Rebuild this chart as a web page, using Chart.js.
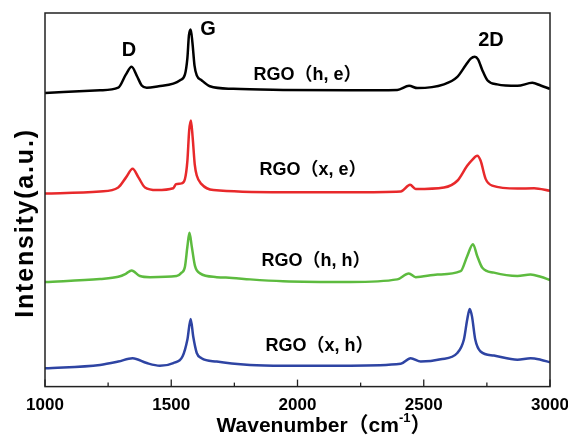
<!DOCTYPE html>
<html>
<head>
<meta charset="utf-8">
<script src="https://cdn.jsdelivr.net/npm/chart.js@4"></script>
<style>
  html, body { margin: 0; padding: 0; background: #fff; }
  #wrap { width: 568px; height: 435px; position: relative; }
</style>
</head>
<body>
<div id="wrap"><canvas id="raman"></canvas></div>
<script>
// Raman spectra (intensity in a.u., curves stacked with offsets)
const xTicks = [1000, 1500, 2000, 2500, 3000];

const heWn = [1000, 1218, 1290, 1320, 1343, 1365, 1383, 1403, 1450, 1508, 1535, 1554, 1564, 1570, 1577, 1584, 1592, 1601, 1620, 1653, 1746, 1943, 2211, 2395, 2442, 2475, 2580, 2633, 2666, 2686, 2702, 2715, 2732, 2752, 2791, 2871, 2930, 2963, 3000];
const heI  = [78.6, 79.3, 80.0, 83.5, 85.6, 83.0, 80.6, 80.0, 80.4, 81.1, 82.0, 83.5, 88.0, 94.0, 95.6, 92.0, 86.0, 83.3, 82.0, 80.4, 79.7, 79.4, 79.3, 79.4, 80.5, 79.9, 80.9, 82.9, 86.0, 87.8, 88.3, 87.6, 84.7, 82.0, 80.9, 80.5, 81.3, 80.6, 79.7];

const xeWn = [1000, 1218, 1290, 1321, 1347, 1370, 1396, 1442, 1508, 1519, 1541, 1554, 1564, 1571, 1578, 1585, 1593, 1601, 1620, 1667, 1943, 2211, 2409, 2446, 2468, 2580, 2633, 2672, 2692, 2712, 2725, 2745, 2771, 2871, 2937, 3000];
const xeI  = [51.7, 52.2, 53.3, 56.0, 58.3, 56.0, 53.3, 52.6, 53.1, 54.2, 54.4, 55.5, 60.5, 68.5, 71.2, 66.5, 59.5, 56.5, 54.2, 52.6, 52.0, 52.0, 52.2, 54.0, 52.9, 53.3, 55.1, 59.1, 60.7, 61.8, 60.5, 55.6, 53.8, 53.0, 53.1, 52.4];

const hhWn = [1000, 1218, 1290, 1320, 1343, 1376, 1416, 1521, 1541, 1554, 1564, 1572, 1581, 1594, 1614, 1680, 1742, 1812, 1943, 2211, 2395, 2441, 2468, 2554, 2646, 2672, 2695, 2712, 2732, 2778, 2871, 2923, 2963, 3000];
const hhI  = [28.0, 28.8, 29.4, 30.2, 31.1, 29.6, 29.3, 29.6, 30.5, 32.0, 37.5, 41.2, 37.6, 32.3, 30.3, 29.3, 29.1, 28.7, 28.2, 28.0, 28.7, 30.3, 29.3, 30.0, 30.9, 34.9, 38.1, 34.9, 31.8, 30.5, 29.6, 30.0, 29.4, 28.5];

const xhWn = [1000, 1218, 1290, 1347, 1403, 1455, 1508, 1545, 1564, 1577, 1587, 1601, 1620, 1680, 1812, 1943, 2211, 2409, 2448, 2488, 2567, 2633, 2659, 2672, 2682, 2691, 2704, 2725, 2778, 2871, 2923, 2963, 3000];
const xhI  = [4.9, 5.8, 6.7, 7.6, 6.3, 5.6, 6.3, 8.1, 12.6, 18.1, 13.4, 9.0, 7.6, 6.7, 5.8, 5.6, 5.6, 6.1, 7.6, 6.7, 7.3, 9.0, 12.6, 17.9, 20.8, 18.8, 12.6, 9.4, 8.3, 7.2, 7.6, 7.2, 6.5];

const seriesNames  = ['RGO（h, e）', 'RGO（x, e）', 'RGO（h, h）', 'RGO（x, h）'];
const seriesColors = ['#000000', '#e8292b', '#5dbb3f', '#2e44a3'];
// where each curve's name sits, in data units
const nameWn = [2040, 2061, 2073, 2087];
const nameI  = [83.5, 57.9, 33.7, 10.9];

const peakNames = ['D', 'G', '2D'];
const peakWn = [1333, 1646, 2766];
const peakI  = [90.1, 95.6, 92.6];

const FONT = '"Liberation Sans", Arial, "Noto Sans CJK SC", sans-serif';

const toPoints = (xs, ys) => xs.map((x, i) => ({ x, y: ys[i] }));
const allWn = [heWn, xeWn, hhWn, xhWn];
const allI = [heI, xeI, hhI, xhI];

const datasets = allWn.map((wn, i) => ({
  label: seriesNames[i],
  data: toPoints(wn, allI[i]),
  borderColor: seriesColors[i],
  borderWidth: 2.5,
  pointRadius: 0,
  fill: false,
  cubicInterpolationMode: 'monotone',
}));

// frame, inward ticks, text labels and axis titles
const decorPlugin = {
  id: 'decor',
  afterDatasetsDraw(chart) {
    const { ctx, chartArea: a, scales } = chart;
    const xs = scales.x, ys = scales.y;
    ctx.save();

    ctx.strokeStyle = '#222';
    ctx.lineWidth = 1.5;
    ctx.strokeRect(a.left, a.top, a.right - a.left, a.bottom - a.top);

    ctx.lineWidth = 1.3;
    for (let v = 1000; v <= 3000; v += 250) {
      const px = xs.getPixelForValue(v);
      const len = v % 500 === 0 ? 7 : 4;
      ctx.beginPath();
      ctx.moveTo(px, a.bottom);
      ctx.lineTo(px, a.bottom - len);
      ctx.stroke();
    }

    ctx.fillStyle = '#000';
    ctx.textAlign = 'center';
    ctx.textBaseline = 'middle';

    ctx.font = 'bold 20px ' + FONT;
    peakNames.forEach((t, i) => {
      ctx.fillText(t, xs.getPixelForValue(peakWn[i]), ys.getPixelForValue(peakI[i]));
    });

    ctx.font = 'bold 18px ' + FONT;
    seriesNames.forEach((t, i) => {
      ctx.fillText(t, xs.getPixelForValue(nameWn[i]), ys.getPixelForValue(nameI[i]));
    });

    // x title with superscript
    const main = 'Wavenumber（cm', sup = '-1', end = '）';
    ctx.font = 'bold 21px ' + FONT;
    const wMain = ctx.measureText(main).width;
    const wEnd = ctx.measureText(end).width;
    ctx.font = 'bold 13px ' + FONT;
    const wSup = ctx.measureText(sup).width;
    let x0 = xs.getPixelForValue(2105) - (wMain + wSup + wEnd) / 2;
    const ty = 425;
    ctx.textAlign = 'left';
    ctx.textBaseline = 'alphabetic';
    ctx.font = 'bold 21px ' + FONT;
    ctx.fillText(main, x0, ty + 7);
    ctx.font = 'bold 13px ' + FONT;
    ctx.fillText(sup, x0 + wMain, ty - 3);
    ctx.font = 'bold 21px ' + FONT;
    ctx.fillText(end, x0 + wMain + wSup, ty + 7);

    // y title
    ctx.translate(26, 223);
    ctx.rotate(-Math.PI / 2);
    ctx.font = 'bold 25px ' + FONT;
    ctx.letterSpacing = '1.8px';
    ctx.textAlign = 'center';
    ctx.textBaseline = 'middle';
    ctx.fillText('Intensity(a.u.)', 0, 0);

    ctx.restore();
  },
};

new Chart(document.getElementById('raman'), {
  type: 'line',
  data: { datasets },
  options: {
    responsive: true,
    maintainAspectRatio: false,
    animation: false,
    events: [],
    layout: { padding: { left: 45, right: 18, top: 13, bottom: 10 } },
    plugins: {
      legend: { display: false },
      tooltip: { enabled: false },
    },
    scales: {
      x: {
        type: 'linear',
        min: 1000,
        max: 3000,
        afterBuildTicks: (axis) => { axis.ticks = xTicks.map(v => ({ value: v })); },
        // labels may hang past the plot edges; the layout padding covers them
        afterFit: (axis) => { axis.paddingLeft = 0; axis.paddingRight = 0; },
        grid: { display: false, drawTicks: false },
        border: { display: false },
        ticks: {
          color: '#000',
          padding: 9,
          maxRotation: 0,
          callback: (v) => String(v),
          font: { family: FONT, size: 17, weight: 'bold' },
        },
      },
      y: {
        display: false,
        min: 0,
        max: 100,
      },
    },
  },
  plugins: [decorPlugin],
});
</script>
</body>
</html>
